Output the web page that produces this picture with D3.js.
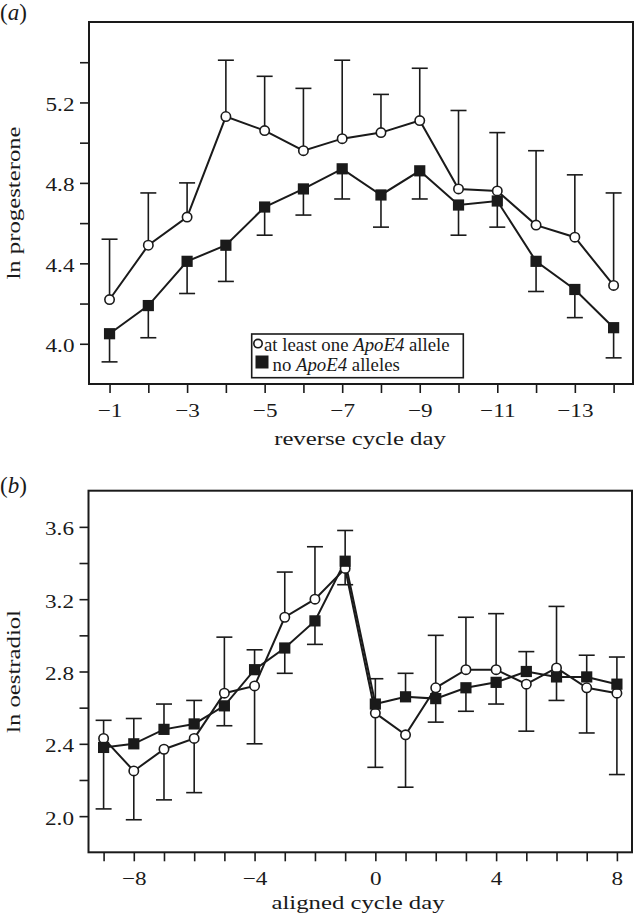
<!DOCTYPE html>
<html><head><meta charset="utf-8">
<script src="https://cdn.jsdelivr.net/npm/d3@7"></script>
<style>html,body{margin:0;padding:0;background:#fff}svg{display:block}</style>
</head><body><svg id="chart" width="634" height="917"></svg>
<script>
// ---------- Panel (a): progesterone ----------
const progDays = [-1, -2, -3, -4, -5, -6, -7, -8, -9, -10, -11, -12, -13, -14];
const progApoE4 = [4.22, 4.49, 4.63, 5.13, 5.06, 4.96, 5.02, 5.05, 5.11, 4.77, 4.76, 4.59, 4.53, 4.29];
const progApoE4Bar = [4.52, 4.75, 4.80, 5.41, 5.33, 5.27, 5.41, 5.24, 5.37, 5.16, 5.05, 4.96, 4.84, 4.75];
const progNoApoE4 = [4.05, 4.19, 4.41, 4.49, 4.68, 4.77, 4.87, 4.74, 4.86, 4.69, 4.71, 4.41, 4.27, 4.08];
const progNoApoE4Bar = [3.91, 4.03, 4.25, 4.31, 4.54, 4.64, 4.72, 4.58, 4.72, 4.54, 4.58, 4.26, 4.13, 3.93];
const progYTicks = [4.0, 4.2, 4.4, 4.6, 4.8, 5.0, 5.2, 5.4];
const progYLabels = [4.0, 4.4, 4.8, 5.2];
const progXLabels = [-1, -3, -5, -7, -9, -11, -13];

// ---------- Panel (b): oestradiol ----------
const oesDays = [-9, -8, -7, -6, -5, -4, -3, -2, -1, 0, 1, 2, 3, 4, 5, 6, 7, 8];
const oesApoE4 = [2.43, 2.25, 2.37, 2.43, 2.68, 2.72, 3.10, 3.20, 3.37, 2.57, 2.45, 2.71, 2.81, 2.81, 2.73, 2.82, 2.71, 2.68];
const oesApoE4Bar = [2.04, 1.98, 2.09, 2.13, 2.99, 2.40, 3.35, 3.49, 3.28, 2.27, 2.16, 3.00, 3.10, 3.12, 2.47, 3.16, 2.46, 2.23];
const oesNoApoE4 = [2.38, 2.40, 2.48, 2.51, 2.61, 2.81, 2.93, 3.08, 3.41, 2.62, 2.66, 2.65, 2.71, 2.74, 2.80, 2.77, 2.77, 2.73];
const oesNoApoE4Bar = [2.53, 2.54, 2.62, 2.64, 2.50, 2.92, 2.79, 2.95, 3.58, 2.76, 2.79, 2.52, 2.58, 2.62, 2.91, 2.64, 2.89, 2.88];
const oesYTicks = [2.0, 2.2, 2.4, 2.6, 2.8, 3.0, 3.2, 3.4, 3.6];
const oesYLabels = [2.0, 2.4, 2.8, 3.2, 3.6];
const oesXLabels = [-8, -4, 0, 4, 8];

const legendLabels = [["at least one ", "ApoE4", " allele"], ["no ", "ApoE4", " alleles"]];

const FONT = '"Liberation Serif", "Times New Roman", Times, serif';
const INK = "#1a1a1a";
const svg = d3.select("#chart");
svg.append("rect").attr("width", 634).attr("height", 917).attr("fill", "#fff");

const fmtX = d => d < 0 ? "\u2212" + (-d) : String(d);

function drawPanel(cfg) {
  const x = d3.scaleLinear().domain(cfg.xDomain).range([cfg.box.left, cfg.box.right]);
  const y = d3.scaleLinear().domain(cfg.yDomain).range([cfg.box.bottom, cfg.box.top]);
  const g = svg.append("g");

  // axes
  const ax = g.append("g").attr("transform", `translate(0,${cfg.box.bottom})`)
    .call(d3.axisBottom(x).tickValues(cfg.days).tickSize(9).tickSizeOuter(0)
      .tickFormat(d => cfg.xLabels.includes(d) ? fmtX(d) : ""));
  const ay = g.append("g").attr("transform", `translate(${cfg.box.left},0)`)
    .call(d3.axisLeft(y).tickValues(cfg.yTicks).tickSize(9).tickSizeOuter(0)
      .tickFormat(d => cfg.yLabels.some(v => Math.abs(v - d) < 1e-9) ? d.toFixed(1) : ""));
  [ax, ay].forEach(a => {
    a.select(".domain").remove();
    a.selectAll(".tick line").attr("stroke", INK).attr("stroke-width", 1.6);
    a.selectAll(".tick text").attr("fill", INK).attr("font-family", FONT).attr("font-size", 19)
      .attr("x", null).attr("y", null).attr("dy", null);
  });
  ax.selectAll(".tick text").attr("text-anchor", "middle").attr("transform", "translate(0,33) scale(1.22,1)");
  ay.selectAll(".tick text").attr("text-anchor", "end").attr("transform", "translate(-14.5,8) scale(1.22,1)");

  // frame
  g.append("rect").attr("x", cfg.box.left).attr("y", cfg.box.top)
    .attr("width", cfg.box.right - cfg.box.left).attr("height", cfg.box.bottom - cfg.box.top)
    .attr("fill", "none").attr("stroke", INK).attr("stroke-width", 2);

  const series = [
    { vals: cfg.circVals, bars: cfg.circBars, shape: "circle" },
    { vals: cfg.sqVals, bars: cfg.sqBars, shape: "square" }
  ];
  // error bars
  series.forEach(s => {
    const eb = g.append("g").attr("stroke", INK).attr("stroke-width", 1.6);
    cfg.days.forEach((d, i) => {
      const px = x(d);
      eb.append("line").attr("x1", px).attr("x2", px).attr("y1", y(s.vals[i])).attr("y2", y(s.bars[i]));
      eb.append("line").attr("x1", px - 8).attr("x2", px + 8).attr("y1", y(s.bars[i])).attr("y2", y(s.bars[i]));
    });
  });
  // lines
  const line = d3.line().x((d, i) => x(cfg.days[i])).y(d => y(d));
  series.forEach(s => {
    g.append("path").datum(s.vals).attr("d", line).attr("fill", "none")
      .attr("stroke", INK).attr("stroke-width", 2).attr("stroke-linejoin", "miter");
  });
  // markers
  const order = cfg.circlesOnTop ? [series[1], series[0]] : [series[0], series[1]];
  order.forEach(s => {
    const mg = g.append("g");
    cfg.days.forEach((d, i) => {
      if (s.shape === "circle") {
        mg.append("circle").attr("cx", x(d)).attr("cy", y(s.vals[i])).attr("r", 4.7)
          .attr("fill", "#fff").attr("stroke", INK).attr("stroke-width", 1.6);
      } else {
        mg.append("rect").attr("x", x(d) - 5.6).attr("y", y(s.vals[i]) - 5.6)
          .attr("width", 11.2).attr("height", 11.2).attr("fill", INK);
      }
    });
  });

  // titles
  g.append("text").attr("font-family", FONT).attr("font-size", 19.5).attr("fill", INK)
    .attr("text-anchor", "middle")
    .attr("transform", `translate(${cfg.xTitlePos[0]},${cfg.xTitlePos[1]}) scale(1.27,1)`)
    .text(cfg.xTitle);
  g.append("text").attr("font-family", FONT).attr("font-size", 19.5).attr("fill", INK)
    .attr("text-anchor", "middle")
    .attr("transform", `translate(20,${(cfg.box.top + cfg.box.bottom) / 2}) rotate(-90) scale(1.27,1)`)
    .text(cfg.yTitle);
  const pl = g.append("text").attr("font-family", FONT).attr("font-size", 23).attr("fill", INK)
    .attr("x", 0).attr("y", cfg.panelLabelY);
  pl.append("tspan").text("(");
  pl.append("tspan").attr("font-style", "italic").text(cfg.panelLabel);
  pl.append("tspan").text(")");
  return { x, y, g };
}

drawPanel({
  days: progDays, circVals: progApoE4, circBars: progApoE4Bar, sqVals: progNoApoE4, sqBars: progNoApoE4Bar,
  xDomain: [-0.47, -14.5], yDomain: [3.8, 5.6],
  box: { left: 89, right: 633, top: 22, bottom: 384 },
  yTicks: progYTicks, yLabels: progYLabels, xLabels: progXLabels,
  xTitle: "reverse cycle day", yTitle: "ln progesterone", xTitlePos: [360, 445],
  panelLabel: "a", panelLabelY: 19.5, circlesOnTop: true
});

drawPanel({
  days: oesDays, circVals: oesApoE4, circBars: oesApoE4Bar, sqVals: oesNoApoE4, sqBars: oesNoApoE4Bar,
  xDomain: [-9.5, 8.5], yDomain: [1.8, 3.8],
  box: { left: 88.5, right: 632, top: 490.7, bottom: 852.3 },
  yTicks: oesYTicks, yLabels: oesYLabels, xLabels: oesXLabels,
  xTitle: "aligned cycle day", yTitle: "ln oestradiol", xTitlePos: [358, 909],
  panelLabel: "b", panelLabelY: 493, circlesOnTop: false
});

// legend (panel a)
const lg = svg.append("g");
lg.append("rect").attr("x", 251.7).attr("y", 334).attr("width", 211.6).attr("height", 43.7)
  .attr("fill", "#fff").attr("stroke", INK).attr("stroke-width", 1.6);
lg.append("circle").attr("cx", 258).attr("cy", 343.6).attr("r", 4.2)
  .attr("fill", "#fff").attr("stroke", INK).attr("stroke-width", 1.6);
lg.append("rect").attr("x", 255.5).attr("y", 355.5).attr("width", 13).attr("height", 13).attr("fill", INK);
const legendPos = [[264, 351], [272.5, 370.7]];
legendLabels.forEach((parts, i) => {
  const t = lg.append("text").attr("font-family", FONT).attr("font-size", 18.8).attr("fill", INK)
    .attr("x", legendPos[i][0]).attr("y", legendPos[i][1]).attr("xml:space", "preserve");
  t.append("tspan").text(parts[0]);
  t.append("tspan").attr("font-style", "italic").text(parts[1]);
  t.append("tspan").text(parts[2]);
});
</script>
</body></html>
